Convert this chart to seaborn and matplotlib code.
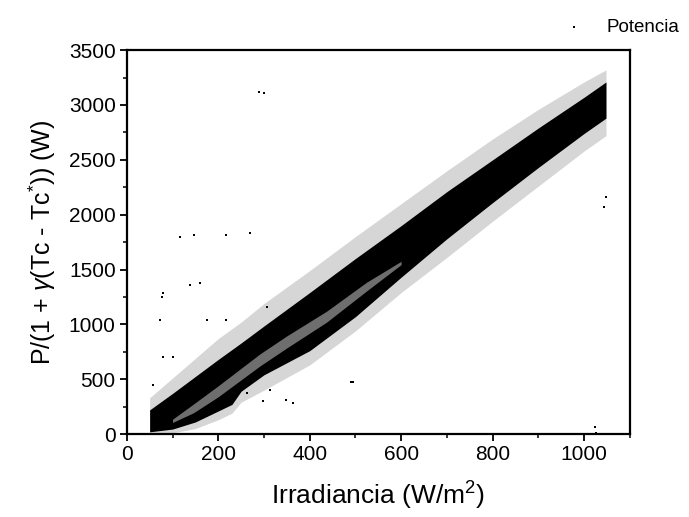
import numpy as np
import pandas as pd
import matplotlib
matplotlib.use("Agg")
import matplotlib.pyplot as plt
import seaborn as sns
from matplotlib.ticker import MultipleLocator

# ---- data ----
# dense band of the Potencia cloud (x = irradiance, W/m2)
x_band = [50, 100, 150, 200, 230, 250, 300, 400, 500, 600, 700, 800, 900, 1000, 1048]
upper_dense = [220, 370, 525, 680, 770, 830, 985, 1290, 1600, 1900, 2210, 2500, 2790, 3070, 3210]
lower_dense = [20, 45, 110, 210, 270, 390, 540, 760, 1070, 1430, 1780, 2110, 2430, 2740, 2880]
upper_fringe = [330, 510, 690, 870, 960, 1020, 1190, 1490, 1800, 2100, 2400, 2690, 2960, 3210, 3320]
lower_fringe = [0, 10, 50, 130, 190, 290, 400, 630, 940, 1290, 1610, 1940, 2260, 2580, 2720]

# lighter inner stripe inside the lower part of the band
x_stripe = [100, 146, 200, 291, 350, 437, 524, 600]
stripe_mid = [120, 234, 390, 675, 840, 1070, 1343, 1560]
stripe_half = [15, 40, 50, 55, 55, 50, 40, 15]

# isolated points outside the band
out_x = [116, 146, 218, 80, 76, 138, 160, 73, 175, 218, 80, 102, 269, 306, 349, 364,
         495, 491, 262, 313, 58, 299, 1026, 1024, 1047, 1044, 290, 300]
out_y = [1799, 1814, 1814, 1282, 1252, 1358, 1374, 1039, 1039, 1039, 705, 705, 1829, 1160, 310, 280,
         477, 474, 371, 401, 447, 301, 5, 64, 2163, 2072, 3117, 3110]

x_ticks = [0, 200, 400, 600, 800, 1000]
y_ticks = [0, 500, 1000, 1500, 2000, 2500, 3000, 3500]

sns.set_style("ticks")
plt.rcParams["font.family"] = ["Liberation Sans", "DejaVu Sans"]
plt.rcParams["mathtext.fontset"] = "custom"
plt.rcParams["mathtext.rm"] = "Liberation Sans"
plt.rcParams["mathtext.it"] = "Liberation Sans:italic"
plt.rcParams["text.color"] = "black"
plt.rcParams["axes.labelcolor"] = "black"
plt.rcParams["xtick.color"] = "black"
plt.rcParams["ytick.color"] = "black"

fig = plt.figure(figsize=(6.89, 5.17), dpi=100)
fig.subplots_adjust(left=0.184, right=0.914, bottom=0.1605, top=0.903)
ax = fig.add_subplot(111)

ax.fill_between(x_band, lower_fringe, upper_fringe, color="#d6d6d6", linewidth=0, zorder=1)
ax.fill_between(x_band, lower_dense, upper_dense, color="black", linewidth=0, zorder=2)
sm = np.array(stripe_mid)
sh = np.array(stripe_half)
ax.fill_between(x_stripe, sm - sh, sm + sh, color="#6e6e6e", linewidth=0, zorder=3)

df = pd.DataFrame({"x": out_x, "y": out_y})
sns.scatterplot(data=df, x="x", y="y", ax=ax, color="black", s=2.5, marker="s",
                linewidth=0, label="Potencia", zorder=4)

ax.set_xlim(0, 1100)
ax.set_ylim(0, 3500)
ax.set_xticks(x_ticks)
ax.set_yticks(y_ticks)
ax.xaxis.set_minor_locator(MultipleLocator(100))
ax.yaxis.set_minor_locator(MultipleLocator(250))
ax.tick_params(axis="both", which="major", direction="out", length=5, width=1.3,
               labelsize=15, top=False, right=False, pad=3, colors="black")
ax.tick_params(axis="both", which="minor", direction="out", length=3, width=1.1,
               top=False, right=False, colors="black")
for sp in ax.spines.values():
    sp.set_linewidth(1.6)
    sp.set_visible(True)
    sp.set_color("black")

ax.set_xlabel(r"Irradiancia (W/m$^2$)", fontsize=19, labelpad=11, color="black")
ax.set_ylabel(r"P/(1 + $\gamma$(Tc - Tc$^{*}$)) (W)", fontsize=18, labelpad=8, color="black")

leg = ax.legend(loc="center", bbox_to_anchor=(0.975, 1.06), frameon=False,
                fontsize=13.5, markerscale=1.2, handletextpad=0.7, borderaxespad=0)
for t in leg.get_texts():
    t.set_color("black")

fig.savefig("out.png", dpi=100, facecolor="white")
